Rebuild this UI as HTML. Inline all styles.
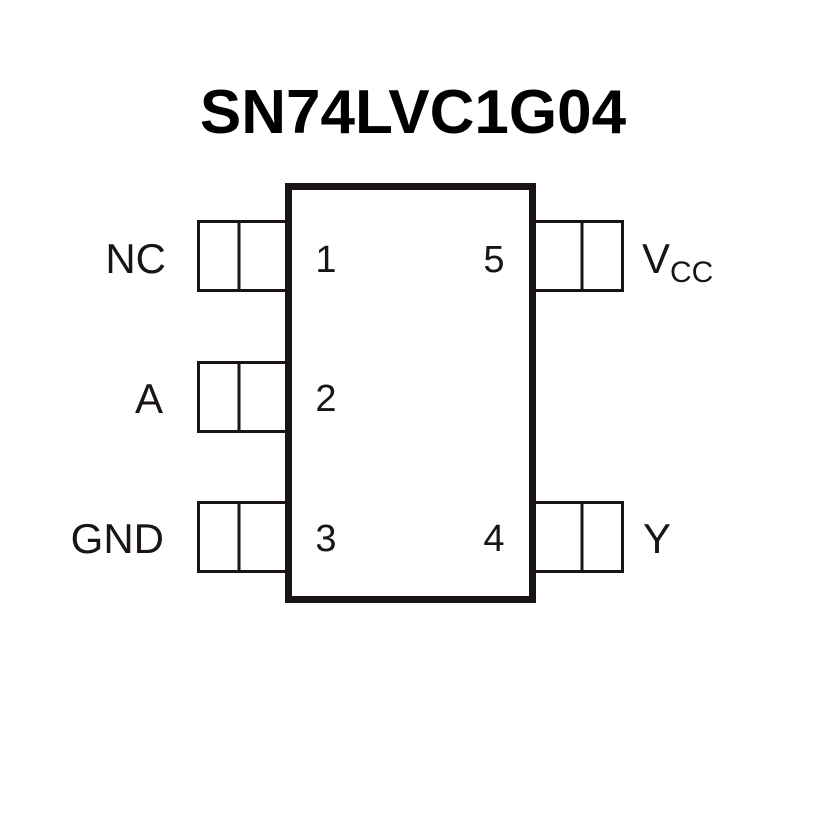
<!DOCTYPE html>
<html><head><style>html,body{margin:0;padding:0;background:#fff}</style></head>
<body>
<svg width="827" height="827" viewBox="0 0 827 827" xmlns="http://www.w3.org/2000/svg">
<rect width="827" height="827" fill="#fff"/>
<text x="413" y="133" text-anchor="middle" font-family="Liberation Sans, sans-serif" font-weight="bold" font-size="62" fill="#000">SN74LVC1G04</text>
<g fill="none" stroke="#1a1414" stroke-width="3">
<rect x="198.5" y="221.5" width="90" height="69"/><line x1="239" y1="221" x2="239" y2="291"/>
<rect x="198.5" y="362.5" width="90" height="69"/><line x1="239" y1="362" x2="239" y2="432"/>
<rect x="198.5" y="502.5" width="90" height="69"/><line x1="239" y1="502" x2="239" y2="572"/>
<rect x="530.5" y="221.5" width="92" height="69"/><line x1="582" y1="221" x2="582" y2="291"/>
<rect x="530.5" y="502.5" width="92" height="69"/><line x1="582" y1="502" x2="582" y2="572"/>
</g>
<rect x="288.5" y="186.5" width="244" height="413" fill="#fff" stroke="#1a1414" stroke-width="7"/>
<g font-family="Liberation Sans, sans-serif" font-size="38" fill="#1a1414">
<text x="166" y="273" text-anchor="end" font-size="42">NC</text>
<text x="163" y="413" text-anchor="end" font-size="42">A</text>
<text x="164" y="553" text-anchor="end" font-size="42">GND</text>
<text x="326" y="272" text-anchor="middle">1</text>
<text x="326" y="411" text-anchor="middle">2</text>
<text x="326" y="551" text-anchor="middle">3</text>
<text x="494" y="272" text-anchor="middle">5</text>
<text x="494" y="551" text-anchor="middle">4</text>
<text x="642" y="273" font-size="42">V<tspan font-size="30" dy="9">CC</tspan></text>
<text x="643" y="553" font-size="42">Y</text>
</g>
</svg>
</body></html>
